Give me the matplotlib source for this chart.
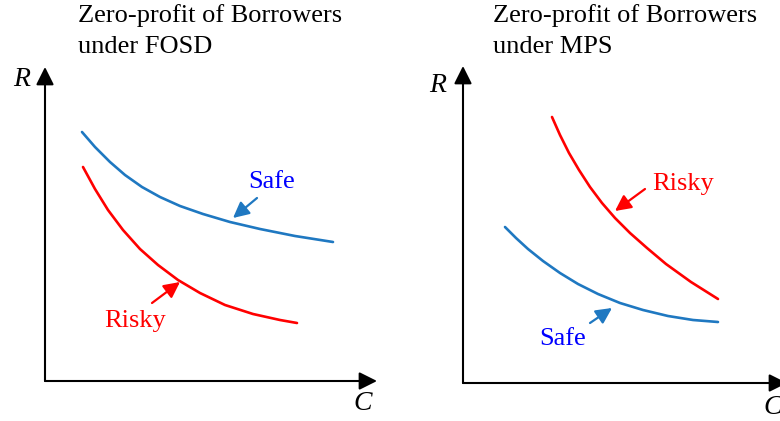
import matplotlib.pyplot as plt

plt.rcParams['font.family'] = ['Liberation Serif', 'DejaVu Serif']

W, H = 780, 421

fosd_safe_c = [37, 50, 65, 80, 97, 115, 135, 158, 185, 215, 250, 288]
fosd_safe_r = [249, 234, 219, 206, 194, 184, 175, 167, 159, 152, 145, 139]
fosd_risky_c = [38, 50, 63, 78, 95, 113, 133, 155, 180, 208, 235, 252]
fosd_risky_r = [214, 192, 171, 151, 132, 116, 101, 88, 76, 67, 61, 58]

mps_risky_c = [89, 97, 106, 116, 127, 139, 152, 167, 184, 203, 228, 255]
mps_risky_r = [266, 248, 230, 213, 196, 180, 165, 150, 135, 119, 101, 84]
mps_safe_c = [42, 53, 65, 80, 97, 115, 135, 157, 180, 205, 230, 255]
mps_safe_r = [156, 145, 134, 122, 110, 99, 89, 80, 73, 67, 63, 61]

titles = [["Zero-profit of Borrowers", "under FOSD"],
          ["Zero-profit of Borrowers", "under MPS"]]

BLUE = '#1f78c1'
RED = '#ff0000'
TXT_BLUE = '#0000ff'

fig = plt.figure(figsize=(W / 100, H / 100), dpi=100)


def panel(left, bottom, xmax, ymax):
    ax = fig.add_axes([left / W, bottom / H, xmax / W, ymax / H])
    ax.set_xlim(0, xmax)
    ax.set_ylim(0, ymax)
    ax.axis('off')
    head = '-|>,head_length=0.6,head_width=0.3'
    # axes with arrowheads
    ax.annotate('', xy=(1, 0), xytext=(0, 0), xycoords='axes fraction',
                arrowprops=dict(arrowstyle=head, color='k', lw=1.5,
                                mutation_scale=18, shrinkA=0, shrinkB=0),
                annotation_clip=False)
    ax.annotate('', xy=(0, 1), xytext=(0, 0), xycoords='axes fraction',
                arrowprops=dict(arrowstyle=head, color='k', lw=1.5,
                                mutation_scale=18, shrinkA=0, shrinkB=0),
                annotation_clip=False)
    return ax


def pointer(ax, label, txt, start, tip, col, tcol):
    ax.annotate('', xy=tip, xytext=start,
                arrowprops=dict(arrowstyle='-|>,head_length=0.8,head_width=0.4',
                                color=col, lw=1.6, mutation_scale=12,
                                shrinkA=0, shrinkB=0))
    ax.text(txt[0], txt[1], label, color=tcol, fontsize=19,
            ha='center', va='center')


line_kw = dict(lw=1.9, solid_capstyle='round', solid_joinstyle='round')

# left panel: FOSD
ax1 = panel(45, H - 381, 332, 314)
ax1.plot(fosd_safe_c, fosd_safe_r, color=BLUE, **line_kw)
ax1.plot(fosd_risky_c, fosd_risky_r, color=RED, **line_kw)
pointer(ax1, 'Safe', (227, 199), (212, 183), (188, 163), BLUE, TXT_BLUE)
pointer(ax1, 'Risky', (90, 60), (107, 78), (135, 99), RED, RED)

# right panel: MPS
ax2 = panel(463, H - 383, 324, 317)
ax2.plot(mps_risky_c, mps_risky_r, color=RED, **line_kw)
ax2.plot(mps_safe_c, mps_safe_r, color=BLUE, **line_kw)
pointer(ax2, 'Risky', (220, 199), (182, 194), (152, 172), RED, RED)
pointer(ax2, 'Safe', (100, 44), (127, 60), (149, 75), BLUE, TXT_BLUE)

# titles
for (x0, lines) in zip([78, 493], titles):
    for y0, line in zip([16, 47], lines):
        fig.text(x0 / W, 1 - y0 / H, line, fontsize=19, ha='left', va='center')

# axis letters
for (x0, y0, s) in [(22, 80, 'R'), (438, 86, 'R'), (363, 403, 'C'), (773, 407, 'C')]:
    fig.text(x0 / W, 1 - y0 / H, s, fontsize=20, style='italic',
             ha='center', va='center')

fig.savefig('out.png', dpi=100)
